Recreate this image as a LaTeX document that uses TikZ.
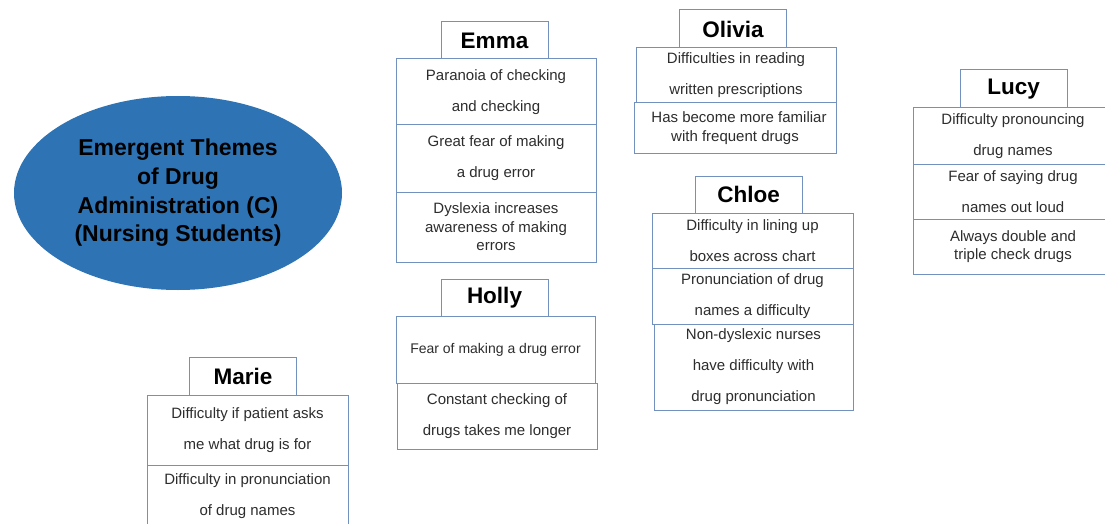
\documentclass[tikz,border=0pt]{standalone}
\usepackage{fontspec}
\setmainfont{Liberation Sans}
\usetikzlibrary{shapes.geometric}
\definecolor{boxline}{RGB}{115,145,190}
\definecolor{ellfill}{RGB}{46,116,181}
\definecolor{celltext}{RGB}{45,45,45}
\tikzset{
  cellbox/.style={draw=boxline, line width=1pt, fill=white, inner sep=0pt, align=center,
    text=celltext, font=\fontsize{15}{31}\selectfont},
  tightlines/.style={font=\fontsize{15}{18.5}\selectfont},
  namebox/.style={draw=boxline, line width=1pt, fill=white, inner sep=0pt,
    minimum width=107pt, minimum height=37pt, font=\bfseries\fontsize{22.5}{27}\selectfont},
  theme/.style={ellipse, fill=ellfill, inner sep=0pt, minimum width=328pt, minimum height=194pt,
    align=center, font=\bfseries\fontsize{23}{28.7}\selectfont}
}
\begin{document}
\begin{tikzpicture}[x=1pt,y=-1pt]
\useasboundingbox (0,0) rectangle (1105,524);
\clip (0,0) rectangle (1105,524);

% central theme
\node[theme] (theme) at (178,193) {Emergent Themes\\of Drug\\Administration (C)\\(Nursing Students)};

% Emma
\node[cellbox, minimum width=200pt, minimum height=66pt] (emma1) at (496,92) {Paranoia of checking\\and checking};
\node[cellbox, minimum width=200pt, minimum height=67pt] (emma2) at (496,158.5) {Great fear of making\\a drug error};
\node[cellbox, tightlines, minimum width=200pt, minimum height=70pt] (emma3) at (496,227) {Dyslexia increases\\awareness of making\\errors};
\node[namebox] (emmaT) at (494.5,40.5) {Emma};

% Olivia
\node[cellbox, minimum width=200pt, minimum height=55pt] (olivia1) at (736,75.5) {Difficulties in reading\\written prescriptions};
\node[cellbox, tightlines, minimum width=202pt, minimum height=50pt] (olivia2) at (735,128) {\hspace*{8pt}Has become more familiar\\with frequent drugs};
\node[namebox, minimum height=38pt] (oliviaT) at (733,29) {Olivia};

% Lucy
\node[cellbox, minimum width=200pt, minimum height=56pt] (lucy1) at (1013,136) {Difficulty pronouncing\\drug names};
\node[cellbox, minimum width=200pt, minimum height=55pt] (lucy2) at (1013,191.5) {Fear of saying drug\\names out loud};
\node[cellbox, tightlines, minimum width=200pt, minimum height=55pt] (lucy3) at (1013,246.5) {Always double and\\triple check drugs};
\node[namebox, minimum height=38pt] (lucyT) at (1013.5,89) {Lucy};

% Chloe
\node[cellbox, minimum width=201pt, minimum height=55pt] (chloe1) at (752.5,240.5) {Difficulty in lining up\\boxes across chart};
\node[cellbox, minimum width=201pt, minimum height=56pt] (chloe2) at (752.5,296) {Pronunciation of drug\\names a difficulty};
\node[cellbox, minimum width=199pt, minimum height=86pt] (chloe3) at (753.5,367) {Non-dyslexic nurses\\have difficulty with\\drug pronunciation};
\node[namebox] (chloeT) at (748.5,194.5) {Chloe};

% Holly
\node[cellbox, font=\fontsize{14}{18}\selectfont, minimum width=199pt, minimum height=67pt] (holly1) at (495.5,349.5) {Fear of making a drug error};
\node[cellbox, minimum width=200pt, minimum height=66pt] (holly2) at (497,416) {Constant checking of\\drugs takes me longer};
\node[namebox] (hollyT) at (494.5,297.5) {Holly};

% Marie
\node[cellbox, minimum width=201pt, minimum height=70pt] (marie1) at (247.5,430) {Difficulty if patient asks\\me what drug is for};
\node[cellbox, minimum width=201pt, minimum height=62pt] (marie2) at (247.5,496) {Difficulty in pronunciation\\of drug names};
\node[namebox, minimum height=38pt] (marieT) at (243,376) {Marie};
\end{tikzpicture}
\end{document}
